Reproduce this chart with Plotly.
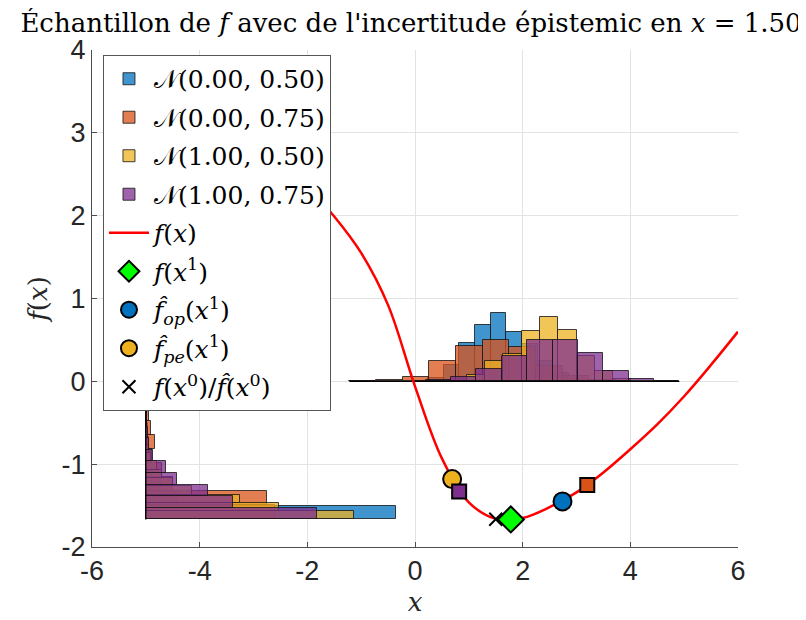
import plotly.graph_objects as go

# --- data ---
# histograms of the sampled x (vertical bars on y = 0): bin edges and bar heights
x_edges_b = [-0.049, 0.242, 0.533, 0.824, 1.115, 1.406, 1.697, 1.988, 2.279, 2.57, 2.861, 3.152]
x_hist_b = [0.01, 0.04, 0.2, 0.46, 0.675, 0.82, 0.59, 0.45, 0.25, 0.1, 0.03]
x_edges_o = [-1.22, -0.725, -0.23, 0.265, 0.76, 1.255, 1.75, 2.245, 2.74, 3.235, 3.73]
x_hist_o = [0.004, 0.012, 0.05, 0.25, 0.43, 0.50, 0.41, 0.18, 0.07, 0.015]
x_edges_y = [0.96, 1.30, 1.64, 1.98, 2.32, 2.66, 3.0, 3.34, 3.68, 4.02]
x_hist_y = [0.08, 0.25, 0.33, 0.61, 0.775, 0.62, 0.3, 0.12, 0.03]
x_edges_p = [0.20, 0.671, 1.142, 1.613, 2.084, 2.555, 3.026, 3.497, 3.968, 4.439, 4.91]
x_hist_p = [0.02, 0.05, 0.15, 0.30, 0.50, 0.50, 0.34, 0.13, 0.025, 0.004]

# histograms of f samples (horizontal bars starting at x = -5)
f_edges_b = [-1.667, -1.5, -1.333, -1.167, -1.0, -0.833, -0.667, -0.5, -0.333, -0.167, 0.0]
f_hist_b = [4.64, 0.6, 0.3, 0.15, 0.1, 0.06, 0.04, 0.03, 0.02, 0.01]
f_edges_o = [-1.667, -1.497, -1.327, -1.157, -0.987, -0.817, -0.647, -0.477, -0.307, -0.137,
             0.033, 0.203, 0.373, 0.543, 0.713, 0.883, 1.053, 1.223, 1.393, 1.563, 1.733]
f_hist_o = [2.4, 2.25, 0.5, 0.3, 0.12, 0.17, 0.1, 0.06, 0.05, 0.04, 0.04, 0.03, 0.03, 0.03,
            0.02, 0.02, 0.02, 0.02, 0.01, 0.01]
f_edges_y = [-1.667, -1.567, -1.467, -1.367, -1.267, -1.167, -1.067, -0.967, -0.867, -0.767]
f_hist_y = [3.87, 2.48, 1.75, 0.85, 0.5, 0.3, 0.2, 0.1, 0.05]
f_edges_p = [-1.667, -1.527, -1.387, -1.247, -1.107, -0.967, -0.827, -0.687, -0.547, -0.407, -0.267]
f_hist_p = [3.18, 1.61, 1.16, 0.58, 0.37, 0.14, 0.06, 0.04, 0.03, 0.02]

# the function f(x)
curve_x = [-2.5, -2.0, -1.5, -1.0, -0.5, 0.0, 0.5, 1.0, 1.5, 2.0, 2.5, 3.0, 3.5, 4.0, 4.5, 5.0, 5.5, 6.0]
curve_y = [2.6, 2.35, 1.99, 1.55, 0.92, -0.06, -0.93, -1.46, -1.66, -1.65, -1.52, -1.34, -1.10,
           -0.82, -0.52, -0.18, 0.2, 0.6]

# single points
x1_true, f1_true = 1.78, -1.667
x1_op, f1_op = 2.74, -1.45
x1_pe, f1_pe = 0.69, -1.18
x0, f0 = 1.5, -1.665
sq_x = [0.82, 3.2]
sq_y = [-1.33, -1.25]

x_ticks = [-6, -4, -2, 0, 2, 4, 6]
x_tick_text = ["-6", "-4", "-2", "0", "2", "4", "6"]
y_ticks = [-2, -1, 0, 1, 2, 3, 4]
y_tick_text = ["-2", "-1", "0", "1", "2", "3", "4"]

labels = ["𝒩(0.00, 0.50)", "𝒩(0.00, 0.75)", "𝒩(1.00, 0.50)", "𝒩(1.00, 0.75)"]
face = ['rgba(0,114,189,0.75)', 'rgba(217,83,25,0.75)', 'rgba(237,177,32,0.75)', 'rgba(126,47,142,0.75)']
edge = 'rgba(20,20,20,0.8)'

serif = "DejaVu Serif"


def centers(edges):
    return [(a + b) / 2 for a, b in zip(edges[:-1], edges[1:])]


def widths(edges):
    return [b - a for a, b in zip(edges[:-1], edges[1:])]


fig = go.Figure()

x_sets = [(x_edges_b, x_hist_b), (x_edges_o, x_hist_o), (x_edges_y, x_hist_y), (x_edges_p, x_hist_p)]
f_sets = [(f_edges_b, f_hist_b), (f_edges_o, f_hist_o), (f_edges_y, f_hist_y), (f_edges_p, f_hist_p)]

for i, (ed, h) in enumerate(x_sets):
    fig.add_trace(go.Bar(
        x=centers(ed), y=h, width=widths(ed), base=0,
        name=labels[i], legendgroup=labels[i], legendrank=i + 1,
        marker=dict(color=face[i], line=dict(color=edge, width=1)),
    ))

for i, (ed, h) in enumerate(f_sets):
    fig.add_trace(go.Bar(
        y=centers(ed), x=h, width=widths(ed), base=-5, orientation='h',
        name=labels[i], legendgroup=labels[i], showlegend=False,
        marker=dict(color=face[i], line=dict(color=edge, width=1)),
    ))

# baselines of the two groups of histograms
all_x_edges = x_edges_b + x_edges_o + x_edges_y + x_edges_p
all_f_edges = f_edges_b + f_edges_o + f_edges_y + f_edges_p
fig.add_trace(go.Scatter(x=[min(all_x_edges), max(all_x_edges)], y=[0, 0], mode='lines',
                         line=dict(color='black', width=1.2), showlegend=False, hoverinfo='skip'))
fig.add_trace(go.Scatter(x=[-5, -5], y=[min(all_f_edges), max(all_f_edges)], mode='lines',
                         line=dict(color='black', width=1.2), showlegend=False, hoverinfo='skip'))

fig.add_trace(go.Scatter(x=curve_x, y=curve_y, mode='lines', line=dict(color='red', width=2.5, shape='spline'),
                         name="<i>f</i>(<i>x</i>)", legendgroup='fx', legendrank=5))

fig.add_trace(go.Scatter(x=[x0], y=[f0], mode='markers', name="<i>f</i>(<i>x</i><sup>0</sup>)/<i>f̂</i>(<i>x</i><sup>0</sup>)",
                         marker=dict(symbol='x-thin', size=13, line=dict(color='black', width=2)),
                         legendgroup='x0', legendrank=9))
fig.add_trace(go.Scatter(x=[x1_true], y=[f1_true], mode='markers', name="<i>f</i>(<i>x</i><sup>1</sup>)",
                         marker=dict(symbol='diamond', size=20, color='#00FF00', line=dict(color='black', width=2)),
                         legendgroup='x1', legendrank=6))
fig.add_trace(go.Scatter(x=[x1_op], y=[f1_op], mode='markers', name="<i>f̂</i><sub><i>op</i></sub>(<i>x</i><sup>1</sup>)",
                         marker=dict(symbol='circle', size=18, color='#0072BD', line=dict(color='black', width=2)),
                         legendgroup='op', legendrank=7))
fig.add_trace(go.Scatter(x=[x1_pe], y=[f1_pe], mode='markers', name="<i>f̂</i><sub><i>pe</i></sub>(<i>x</i><sup>1</sup>)",
                         marker=dict(symbol='circle', size=18, color='#EDB120', line=dict(color='black', width=2)),
                         legendgroup='pe', legendrank=8))
fig.add_trace(go.Scatter(x=sq_x, y=sq_y, mode='markers', showlegend=False,
                         marker=dict(symbol='square', size=14, color=['#7E2F8E', '#D95319'],
                                     line=dict(color='black', width=2))))

axis_common = dict(showgrid=True, gridcolor='#e3e3e3', gridwidth=1, zeroline=False, automargin=False,
                   showline=True, linecolor='#4d4d4d', linewidth=1, ticks='inside', ticklen=5,
                   tickcolor='#4d4d4d', tickfont=dict(family='Liberation Sans', size=27, color='#262626'))

fig.update_layout(
    width=806, height=620,
    margin=dict(l=84, r=76, t=42, b=81, autoexpand=False),
    paper_bgcolor='white', plot_bgcolor='white',
    barmode='overlay', bargap=0,
    title=dict(text="Échantillon de <i>f</i> avec de l'incertitude épistemic en <i>x</i> = 1.50",
               x=0.5, xanchor='center', y=0.99, yanchor='top',
               font=dict(family=serif, size=26, color='black')),
    xaxis=dict(range=[-6, 6], tickvals=x_ticks, ticktext=x_tick_text,
               title=dict(text="<i>x</i>", font=dict(family=serif, size=26, color='#262626'), standoff=7),
               **axis_common),
    yaxis=dict(range=[-2, 4], tickvals=y_ticks, ticktext=y_tick_text,
               title=dict(text="<i>f</i>(<i>x</i>)", font=dict(family=serif, size=26, color='#262626'), standoff=6),
               **axis_common),
    legend=dict(x=0.017, y=0.99, xanchor='left', yanchor='top', bgcolor='white',
                bordercolor='#555555', borderwidth=1, font=dict(family=serif, size=25, color='black'),
                traceorder='grouped', tracegroupgap=3, itemwidth=40),
    showlegend=True,
)

fig.write_html("out.html")
